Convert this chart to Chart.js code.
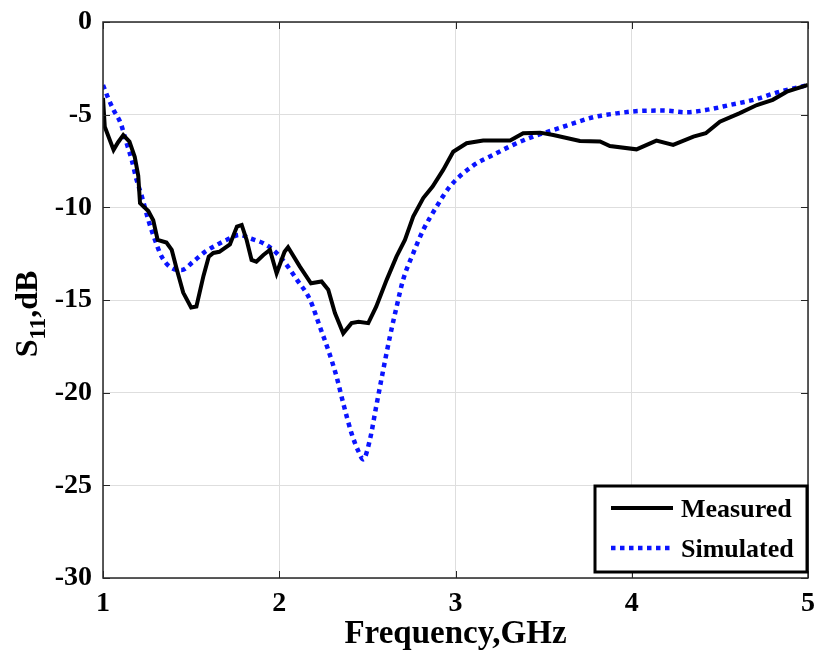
<!DOCTYPE html>
<html>
<head>
<meta charset="utf-8">
<script src="https://cdn.jsdelivr.net/npm/chart.js@4/dist/chart.umd.min.js"></script>
<style>
  html, body { margin: 0; padding: 0; background: #ffffff; }
  #wrap { width: 817px; height: 651px; position: relative; }
</style>
</head>
<body>
<div id="wrap"><canvas id="c" width="817" height="651"></canvas></div>
<script>
// ---- data ----
const measuredFreq = [1.00,1.01,1.06,1.085,1.115,1.15,1.18,1.20,1.21,1.257,1.285,1.31,1.36,1.39,1.42,1.455,1.50,1.53,1.57,1.60,1.626,1.66,1.72,1.76,1.787,1.815,1.843,1.87,1.91,1.947,1.985,2.03,2.05,2.117,2.18,2.24,2.278,2.316,2.363,2.41,2.45,2.505,2.55,2.61,2.665,2.713,2.76,2.817,2.87,2.93,2.987,3.063,3.157,3.31,3.384,3.48,3.555,3.706,3.82,3.876,4.027,4.14,4.235,4.35,4.42,4.50,4.61,4.71,4.80,4.88,5.00];
const measuredS11  = [-4.1,-5.65,-6.9,-6.5,-6.1,-6.45,-7.27,-8.3,-9.77,-10.2,-10.7,-11.76,-11.9,-12.3,-13.4,-14.6,-15.4,-15.35,-13.7,-12.66,-12.46,-12.4,-12.0,-11.04,-10.95,-11.76,-12.84,-12.93,-12.57,-12.3,-13.56,-12.4,-12.15,-13.2,-14.1,-14.0,-14.45,-15.7,-16.8,-16.25,-16.17,-16.25,-15.36,-13.9,-12.66,-11.76,-10.5,-9.5,-8.88,-7.98,-7.0,-6.54,-6.4,-6.4,-6.0,-5.97,-6.1,-6.42,-6.45,-6.69,-6.87,-6.4,-6.63,-6.18,-6.0,-5.38,-4.93,-4.48,-4.2,-3.76,-3.4];
const simulatedFreq = [1.00,1.03,1.06,1.10,1.134,1.163,1.19,1.22,1.257,1.295,1.333,1.39,1.446,1.512,1.58,1.645,1.70,1.777,1.834,1.91,1.966,2.02,2.10,2.175,2.23,2.278,2.325,2.363,2.41,2.45,2.476,2.514,2.55,2.59,2.628,2.666,2.703,2.76,2.817,2.893,2.968,3.10,3.214,3.327,3.44,3.555,3.668,3.78,3.914,4.046,4.18,4.31,4.42,4.556,4.69,4.84,5.00];
const simulatedS11  = [-3.4,-4.12,-4.75,-5.46,-6.54,-7.44,-8.5,-9.4,-10.68,-11.76,-12.66,-13.28,-13.38,-12.93,-12.39,-12.03,-11.76,-11.49,-11.67,-11.94,-12.3,-12.84,-13.9,-15.0,-16.43,-17.7,-19.13,-20.57,-22.19,-23.18,-23.6,-22.55,-20.75,-18.77,-16.97,-15.36,-13.9,-12.48,-11.22,-9.96,-8.88,-7.75,-7.17,-6.63,-6.18,-5.83,-5.47,-5.14,-4.93,-4.8,-4.78,-4.87,-4.75,-4.48,-4.2,-3.76,-3.4];
const seriesNames = ['Measured', 'Simulated'];
const xTickValues = [1, 2, 3, 4, 5];
const yTickValues = [-30, -25, -20, -15, -10, -5, 0];
const xAxisTitle = 'Frequency,GHz';
const yTitleMain = 'S';
const yTitleSub = '11';
const yTitleRest = ',dB';

const SERIF = '"Liberation Serif", "Times New Roman", serif';

function toPoints(xs, ys) { return xs.map((x, i) => ({ x: x, y: ys[i] })); }

// frame + inward tick marks
const framePlugin = {
  id: 'frame',
  afterDatasetsDraw(chart) {
    const { ctx, chartArea: a, scales } = chart;
    ctx.save();
    ctx.strokeStyle = '#262626';
    ctx.lineWidth = 1.5;
    ctx.strokeRect(a.left, a.top, a.right - a.left, a.bottom - a.top);
    ctx.lineWidth = 1;
    const tl = 7;
    ctx.beginPath();
    xTickValues.forEach(v => {
      const px = Math.round(scales.x.getPixelForValue(v)) + 0.5;
      ctx.moveTo(px, a.bottom); ctx.lineTo(px, a.bottom - tl);
      ctx.moveTo(px, a.top); ctx.lineTo(px, a.top + tl);
    });
    yTickValues.forEach(v => {
      const py = Math.round(scales.y.getPixelForValue(v)) + 0.5;
      ctx.moveTo(a.left, py); ctx.lineTo(a.left + tl, py);
      ctx.moveTo(a.right, py); ctx.lineTo(a.right - tl, py);
    });
    ctx.stroke();
    ctx.restore();
  }
};

// legend box inside plot (bottom right)
const legendPlugin = {
  id: 'insideLegend',
  afterDatasetsDraw(chart) {
    const { ctx, chartArea: a } = chart;
    const bx = a.right - 213, by = a.bottom - 92, bw = 212, bh = 86;
    ctx.save();
    ctx.fillStyle = '#ffffff';
    ctx.fillRect(bx, by, bw, bh);
    ctx.strokeStyle = '#000000';
    ctx.lineWidth = 3;
    ctx.strokeRect(bx, by, bw, bh);
    const rows = [by + 22, by + 62];
    chart.data.datasets.forEach((ds, i) => {
      const y = rows[i];
      ctx.beginPath();
      ctx.strokeStyle = ds.borderColor;
      ctx.lineWidth = ds.borderWidth;
      ctx.setLineDash(ds.borderDash || []);
      ctx.lineCap = 'butt';
      ctx.moveTo(bx + 16, y); ctx.lineTo(bx + 78, y);
      ctx.stroke();
      ctx.setLineDash([]);
      ctx.fillStyle = '#000000';
      ctx.font = 'bold 26px ' + SERIF;
      ctx.textAlign = 'left';
      ctx.textBaseline = 'middle';
      ctx.fillText(ds.label, bx + 86, y + 2);
    });
    ctx.restore();
  }
};

// rotated y-axis title with subscript
const yTitlePlugin = {
  id: 'yTitle',
  afterDraw(chart) {
    const { ctx, chartArea: a } = chart;
    ctx.save();
    const cy = (a.top + a.bottom) / 2 + 14;
    ctx.translate(37, cy);
    ctx.rotate(-Math.PI / 2);
    ctx.fillStyle = '#000000';
    ctx.textBaseline = 'alphabetic';
    ctx.textAlign = 'left';
    const fMain = 'bold 32px ' + SERIF;
    const fSub = 'bold 23px ' + SERIF;
    ctx.font = fMain; const w1 = ctx.measureText(yTitleMain).width;
    ctx.font = fSub;  const w2 = ctx.measureText(yTitleSub).width;
    ctx.font = fMain; const w3 = ctx.measureText(yTitleRest).width;
    let x = -(w1 + w2 + w3) / 2;
    ctx.font = fMain; ctx.fillText(yTitleMain, x, 0); x += w1;
    ctx.font = fSub;  ctx.fillText(yTitleSub, x, 8); x += w2;
    ctx.font = fMain; ctx.fillText(yTitleRest, x, 0);
    ctx.restore();
  }
};

new Chart(document.getElementById('c'), {
  type: 'line',
  data: {
    datasets: [
      {
        label: seriesNames[0],
        data: toPoints(measuredFreq, measuredS11),
        borderColor: '#000000',
        borderWidth: 4,
        pointRadius: 0,
        tension: 0,
        fill: false
      },
      {
        label: seriesNames[1],
        data: toPoints(simulatedFreq, simulatedS11),
        borderColor: '#0a14ff',
        borderWidth: 4.5,
        borderDash: [4.5, 4.5],
        borderCapStyle: 'butt',
        pointRadius: 0,
        cubicInterpolationMode: 'monotone',
        fill: false
      }
    ]
  },
  options: {
    responsive: false,
    animation: false,
    devicePixelRatio: 1,
    layout: { padding: { top: 22, right: 9, left: 0, bottom: 0 } },
    plugins: {
      legend: { display: false },
      tooltip: { enabled: false }
    },
    scales: {
      x: {
        type: 'linear',
        min: 1, max: 5,
        afterBuildTicks(scale) { scale.ticks = xTickValues.map(v => ({ value: v })); },
        afterFit(scale) { scale.height = 73; scale.paddingLeft = 0; scale.paddingRight = 0; },
        grid: { color: '#dedede', lineWidth: 1, drawTicks: false },
        border: { display: false },
        ticks: {
          color: '#000000',
          padding: 9,
          font: { family: SERIF, size: 28, weight: 'bold' },
          maxRotation: 0
        },
        title: {
          display: true,
          text: xAxisTitle,
          color: '#000000',
          padding: { top: 0, bottom: 0 },
          font: { family: SERIF, size: 33, weight: 'bold', lineHeight: 1 }
        }
      },
      y: {
        type: 'linear',
        min: -30, max: 0,
        afterBuildTicks(scale) { scale.ticks = yTickValues.map(v => ({ value: v })); },
        afterFit(scale) { scale.width = 103; scale.paddingTop = 0; scale.paddingBottom = 0; },
        grid: { color: '#dedede', lineWidth: 1, drawTicks: false },
        border: { display: false },
        ticks: {
          color: '#000000',
          padding: 11,
          font: { family: SERIF, size: 28, weight: 'bold' }
        }
      }
    }
  },
  plugins: [framePlugin, legendPlugin, yTitlePlugin]
});
</script>
</body>
</html>
